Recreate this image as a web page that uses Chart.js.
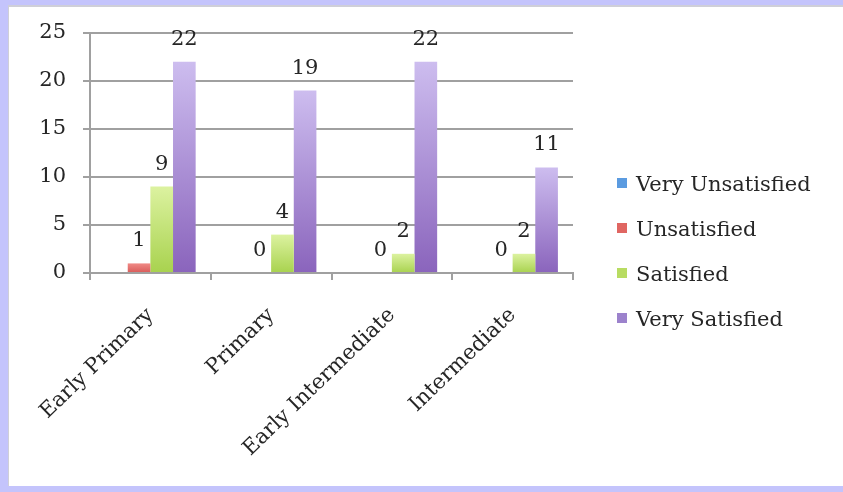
<!DOCTYPE html>
<html>
<head>
<meta charset="utf-8">
<script src="https://cdn.jsdelivr.net/npm/chart.js@4"></script>
<style>
  html, body { margin: 0; padding: 0; width: 100%; height: 100%; overflow: hidden; background: #fff; }
  body { position: relative; }
  .edge { position: absolute; background: #c4c4fc; }
  #edgeLeft { left: 0; top: 0; bottom: 0; width: 8px; }
  #edgeTop { left: 0; top: 0; right: 0; height: 5px; }
  #edgeBottom { left: 0; bottom: 0; right: 0; height: 6px; }
  #frame { position: absolute; left: 8px; top: 5px; right: 0; bottom: 6px; background: #fff;
           border-left: 1px solid #cfcfd8; border-top: 2px solid #cfcfd8; }
  #chart { position: absolute; left: 0; top: 0; }
</style>
</head>
<body>
<div class="edge" id="edgeLeft"></div>
<div class="edge" id="edgeTop"></div>
<div class="edge" id="edgeBottom"></div>
<div id="frame"><canvas id="chart" width="834" height="479"></canvas></div>
<script>
const categories = ['Early Primary', 'Primary', 'Early Intermediate', 'Intermediate'];
const seriesNames = ['Very Unsatisfied', 'Unsatisfied', 'Satisfied', 'Very Satisfied'];
const veryUnsatisfied = [null, null, null, null];
const unsatisfied = [1, 0, 0, 0];
const satisfied = [9, 4, 2, 2];
const verySatisfied = [22, 19, 22, 11];
const yTicks = [0, 5, 10, 15, 20, 25];

const serif = '"DejaVu Serif", serif';
const textColor = '#262626';
const swatches = ['#5b9be0', '#e06662', '#b8dc62', '#9c82cc'];

// light at the top of the bar, darker at the base
function barFill(top, bottom) {
    return function(ctx) {
        const chart = ctx.chart;
        if (!chart.chartArea || ctx.raw == null || ctx.type !== 'data') return bottom;
        const y = chart.scales.y;
        const g = chart.ctx.createLinearGradient(0, y.getPixelForValue(ctx.raw), 0, y.getPixelForValue(0));
        g.addColorStop(0, top);
        g.addColorStop(1, bottom);
        return g;
    };
}

const valueLabels = {
    id: 'valueLabels',
    afterDatasetsDraw(chart) {
        const c = chart.ctx;
        c.save();
        c.font = '21px ' + serif;
        c.fillStyle = textColor;
        c.textAlign = 'center';
        c.textBaseline = 'alphabetic';
        chart.data.datasets.forEach((ds, i) => {
            chart.getDatasetMeta(i).data.forEach((bar, j) => {
                if (ds.data[j] == null) return;
                c.fillText(String(ds.data[j]), bar.x, bar.y - 17);
            });
        });
        c.restore();
    }
};

// legend to the right of the plot, like the original
const sideLegend = {
    id: 'sideLegend',
    afterDraw(chart) {
        const c = chart.ctx;
        const x = chart.chartArea.right + 44;
        let y = 178;
        c.save();
        c.font = '21px ' + serif;
        c.textBaseline = 'middle';
        c.textAlign = 'left';
        seriesNames.forEach((name, i) => {
            c.fillStyle = swatches[i];
            c.fillRect(x, y - 7, 10, 10);
            c.fillStyle = textColor;
            c.fillText(name, x + 19, y + 1);
            y += 45;
        });
        c.restore();
    }
};

new Chart(document.getElementById('chart'), {
    type: 'bar',
    data: {
        labels: categories,
        datasets: [
            { label: seriesNames[0], data: veryUnsatisfied, backgroundColor: barFill('#8ab8ee', '#4f8fd8') },
            { label: seriesNames[1], data: unsatisfied, backgroundColor: barFill('#f08a86', '#d85a58') },
            { label: seriesNames[2], data: satisfied, backgroundColor: barFill('#dcf2a0', '#a8d24e') },
            { label: seriesNames[3], data: verySatisfied, backgroundColor: barFill('#cdbdef', '#8a64bc') }
        ]
    },
    options: {
        responsive: false,
        animation: false,
        layout: { padding: { top: 20, left: 0, right: 270, bottom: 0 } },
        datasets: { bar: { categoryPercentage: 0.75, barPercentage: 1.0 } },
        plugins: {
            tooltip: { enabled: false },
            legend: { display: false }
        },
        scales: {
            x: {
                afterFit(s) { s.height = 213; },
                grid: { drawOnChartArea: false, drawTicks: true, tickLength: 7, color: '#a0a0a0', lineWidth: 2 },
                border: { color: '#a0a0a0', width: 2 },
                ticks: {
                    font: { family: serif, size: 21 },
                    color: textColor,
                    minRotation: 44,
                    maxRotation: 44,
                    padding: 23
                }
            },
            y: {
                min: 0,
                max: 25,
                afterFit(s) { s.width = 81; },
                afterBuildTicks(s) { s.ticks = yTicks.map(v => ({ value: v })); },
                grid: { color: '#a0a0a0', lineWidth: 2, tickLength: 7 },
                border: { color: '#a0a0a0', width: 2 },
                // lineHeight kept tight so the top label does not push the plot down
                ticks: {
                    font: { family: serif, size: 21, lineHeight: 0.86 },
                    color: textColor,
                    padding: 17
                }
            }
        }
    },
    plugins: [valueLabels, sideLegend]
});
</script>
</body>
</html>
